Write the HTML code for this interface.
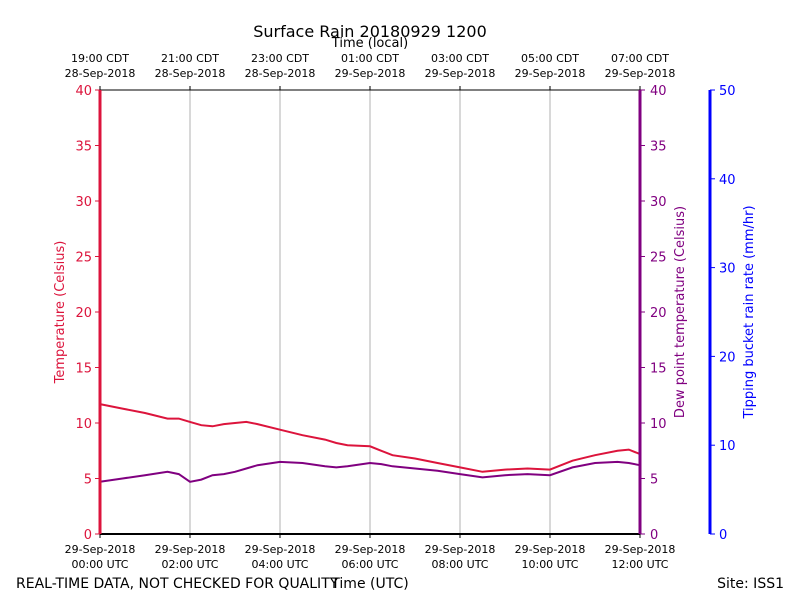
<!DOCTYPE html>
<html><head><meta charset="utf-8"><style>
body{margin:0;background:#fff}
svg text{font-family:"DejaVu Sans","Liberation Sans",sans-serif}
</style></head><body>
<svg id="c" width="800" height="600" xmlns="http://www.w3.org/2000/svg">
<text x="370" y="37" font-size="16" text-anchor="middle">Surface Rain 20180929 1200</text>
<text x="370" y="47" font-size="13" text-anchor="middle">Time (local)</text>
<g id="grid"></g>
<g id="series"></g>
<g id="axes"></g>
<text x="16" y="588" font-size="14">REAL-TIME DATA, NOT CHECKED FOR QUALITY</text>
<text x="370" y="588" font-size="14" text-anchor="middle">Time (UTC)</text>
<text x="784" y="588" font-size="14" text-anchor="end">Site: ISS1</text>
<text transform="translate(64,312) rotate(-90)" font-size="13" fill="#dc143c" text-anchor="middle">Temperature (Celsius)</text>
<text transform="translate(684,312) rotate(-90)" font-size="13" fill="#800080" text-anchor="middle">Dew point temperature (Celsius)</text>
<text transform="translate(753,312) rotate(-90)" font-size="13" fill="#0000ff" text-anchor="middle">Tipping bucket rain rate (mm/hr)</text>
</svg>
<script>
const hours=[0,0.5,1,1.5,1.75,2,2.25,2.5,2.75,3,3.25,3.5,4,4.5,5,5.25,5.5,6,6.25,6.5,7,7.5,8,8.5,9,9.5,10,10.5,11,11.5,11.75,12];
const tempValues=[11.7,11.3,10.9,10.4,10.4,10.1,9.8,9.7,9.9,10.0,10.1,9.9,9.4,8.9,8.5,8.2,8.0,7.9,7.5,7.1,6.8,6.4,6.0,5.6,5.8,5.9,5.8,6.6,7.1,7.5,7.6,7.2];
const dewValues=[4.7,5.0,5.3,5.6,5.4,4.7,4.9,5.3,5.4,5.6,5.9,6.2,6.5,6.4,6.1,6.0,6.1,6.4,6.3,6.1,5.9,5.7,5.4,5.1,5.3,5.4,5.3,6.0,6.4,6.5,6.4,6.2];
const tempTicks=[0,5,10,15,20,25,30,35,40];
const rainTicks=[0,10,20,30,40,50];
const utcLabels=["29-Sep-2018|00:00 UTC","29-Sep-2018|02:00 UTC","29-Sep-2018|04:00 UTC","29-Sep-2018|06:00 UTC","29-Sep-2018|08:00 UTC","29-Sep-2018|10:00 UTC","29-Sep-2018|12:00 UTC"];
const localLabels=["19:00 CDT|28-Sep-2018","21:00 CDT|28-Sep-2018","23:00 CDT|28-Sep-2018","01:00 CDT|29-Sep-2018","03:00 CDT|29-Sep-2018","05:00 CDT|29-Sep-2018","07:00 CDT|29-Sep-2018"];
const NS="http://www.w3.org/2000/svg";
const X0=100,X1=640,Y0=534,Y1=90;
const xs=h=>X0+(X1-X0)*h/12;
const ys=t=>Y0-(Y0-Y1)*t/40;
const yr=r=>Y0-(Y0-Y1)*r/50;
function mk(tag,attrs,parent,txt){const e=document.createElementNS(NS,tag);for(const k in attrs)e.setAttribute(k,attrs[k]);if(txt!==undefined)e.textContent=txt;document.getElementById(parent).appendChild(e);return e;}
for(let i=1;i<6;i++){const l=mk('line',{x1:xs(i*2),x2:xs(i*2),y1:Y1,y2:Y0,stroke:'#b0b0b0','stroke-width':1},'grid');

}
function line(vals,color,name){const d=hours.map((h,i)=>(i?'L':'M')+xs(h).toFixed(1)+','+ys(vals[i]).toFixed(1)).join('');
const p=mk('path',{d:d,fill:'none',stroke:color,'stroke-width':2},'series');

}
line(tempValues,'#dc143c','temperature-line');
line(dewValues,'#800080','dewpoint-line');
mk('line',{x1:X0,x2:X1,y1:Y1,y2:Y1,stroke:'#000','stroke-width':1},'axes');
mk('line',{x1:X0,x2:X1,y1:Y0,y2:Y0,stroke:'#000','stroke-width':2},'axes');
mk('line',{x1:X0,x2:X0,y1:Y1,y2:Y0,stroke:'#dc143c','stroke-width':3},'axes');
mk('line',{x1:X1,x2:X1,y1:Y1,y2:Y0,stroke:'#800080','stroke-width':3},'axes');
mk('line',{x1:710,x2:710,y1:Y1,y2:Y0,stroke:'#0000ff','stroke-width':3},'axes');
tempTicks.forEach(t=>{const y=ys(t);
mk('line',{x1:X0-5,x2:X0,y1:y,y2:y,stroke:'#dc143c','stroke-width':1},'axes');
const a=mk('text',{x:X0-8,y:y+5,'font-size':13,fill:'#dc143c','text-anchor':'end'},'axes',t);


mk('line',{x1:X1,x2:X1+5,y1:y,y2:y,stroke:'#800080','stroke-width':1},'axes');
const b=mk('text',{x:X1+10,y:y+5,'font-size':13,fill:'#800080'},'axes',t);

});
rainTicks.forEach(r=>{const y=yr(r);
mk('line',{x1:710,x2:715,y1:y,y2:y,stroke:'#0000ff','stroke-width':1},'axes');
const c=mk('text',{x:719,y:y+5,'font-size':13,fill:'#0000ff'},'axes',r);

});
utcLabels.forEach((s,i)=>{const x=xs(i*2);const [a,b]=s.split('|');
mk('line',{x1:x,x2:x,y1:Y0,y2:Y0+4,stroke:'#000'},'axes');
mk('line',{x1:x,x2:x,y1:Y1-4,y2:Y1,stroke:'#000'},'axes');
const t1=mk('text',{x:x,y:553,'font-size':11,'text-anchor':'middle'},'axes',a);


const t2=mk('text',{x:x,y:568,'font-size':11,'text-anchor':'middle'},'axes',b);


const [c,d]=localLabels[i].split('|');
const t3=mk('text',{x:x,y:62,'font-size':11,'text-anchor':'middle'},'axes',c);


const t4=mk('text',{x:x,y:77,'font-size':11,'text-anchor':'middle'},'axes',d);

});
</script>
</body></html>
